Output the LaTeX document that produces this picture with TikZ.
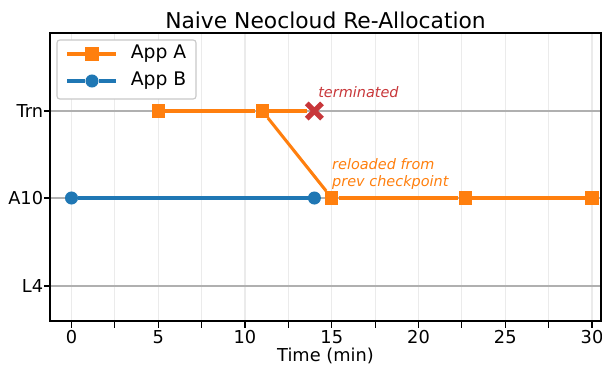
\documentclass[tikz,border=0pt]{standalone}
\usepackage{fontspec}
\setmainfont{DejaVu Sans}
\usetikzlibrary{shapes.misc}

\definecolor{apporange}{HTML}{FF7F0E}
\definecolor{appblue}{HTML}{1F77B4}
\definecolor{killred}{HTML}{C8373A}
\definecolor{gridmajor}{HTML}{B0B0B0}
\definecolor{gridminor}{HTML}{EBEBEB}

\tikzset{
  sqmark/.style={rectangle, fill=apporange, minimum size=9.6pt, inner sep=0pt},
  dotmark/.style={circle, fill=appblue, minimum size=9.4pt, inner sep=0pt},
  killmark/.style={cross out, draw=killred, line width=3.8pt, minimum size=7.2pt, inner sep=0pt},
  lineA/.style={draw=apporange, line width=2.2pt},
  lineB/.style={draw=appblue, line width=2.2pt},
  ticklabel/.style={font=\fontsize{12.8}{15}\selectfont},
  keylabel/.style={font=\fontsize{13.5}{16}\selectfont, anchor=west},
  notelabel/.style={font=\fontsize{10.4}{11.6}\selectfont\itshape, anchor=west, inner sep=0pt}
}

\begin{document}
\begin{tikzpicture}[x=0.72pt,y=-0.72pt]

      \useasboundingbox (0,0) rectangle (602,366);

      % title and axis label
      \node (title) at (325.5,20) {\fontsize{15.7}{18}\selectfont Naive Neocloud Re-Allocation};
      \node[ticklabel, anchor=base] (xlabel) at (325.5,361.5) {Time (min)};

      \begin{scope}[shift={(71.5,0)}, x=12.492pt]

        % grid
        \foreach \t in {0,2.5,...,30}
          \draw[gridminor, line width=0.8pt] (\t,33) -- (\t,321);
        \foreach \y in {111,198,286}
          \draw[gridmajor, line width=1pt] (-1.239,\y) -- (30.52,\y);

        % ticks
        \foreach \t in {0,2.5,...,30}
          \draw[line width=0.8pt] (\t,321) -- (\t,328);
        \foreach \t in {0,5,...,30}
          \node[ticklabel] at (\t,337.5) {\t};
        \foreach \y/\lab in {111/Trn,198/A10,286/L4} {
          \draw[line width=0.8pt] (-1.239,\y) -- ++(-4.6pt,0);
          \node[ticklabel, anchor=east, inner sep=0pt] at (-1.62,\y) {\lab};
        }

        % frame
        \draw[line width=1.1pt] (-1.239,33) rectangle (30.52,321);

        \begin{scope}[every node/.style={sqmark}]
          \node (a5)  at (5,111)    {};
          \node (a11) at (11,111)   {};
          \node (a15) at (15,198)   {};
          \node (a23) at (22.7,198) {};
          \node (a30) at (30,198)   {};
        \end{scope}

        \begin{scope}[every node/.style={dotmark}]
          \node (b0)  at (0,198)  {};
          \node (b14) at (14,198) {};
        \end{scope}

        \node[killmark] (kill) at (14,111) {};

        \path (a5)  edge[lineA] (a11);
        \path (a11) edge[lineA] (kill);
        \path (a11) edge[lineA] (a15);
        \path (a15) edge[lineA] (a23);
        \path (a23) edge[lineA] (a30);
        \path (b0)  edge[lineB] (b14);

        \node[notelabel, text=killred] (termnote) at (14.21,92) {terminated};
        \node[notelabel, text=apporange, align=left] (loadnote) at (15.01,174)
          {reloaded from\\prev checkpoint};
      \end{scope}

      % legend
      \draw[gridmajor!70, fill=white, rounded corners=2pt, line width=0.8pt] (57,40) rectangle (196,99);
      \node[sqmark] (keyA) at (92,54) {};
      \node[dotmark] (keyB) at (92,81) {};
      \coordinate (keyA1) at (67,54);
      \coordinate (keyA2) at (116,54);
      \coordinate (keyB1) at (67,81);
      \coordinate (keyB2) at (116,81);
      \path (keyA1) edge[lineA] (keyA) (keyA) edge[lineA] (keyA2);
      \path (keyB1) edge[lineB] (keyB) (keyB) edge[lineB] (keyB2);
      \node[keylabel] (labA) at (126,54) {App A};
      \node[keylabel] (labB) at (126,81) {App B};

    \end{tikzpicture}
\end{document}
